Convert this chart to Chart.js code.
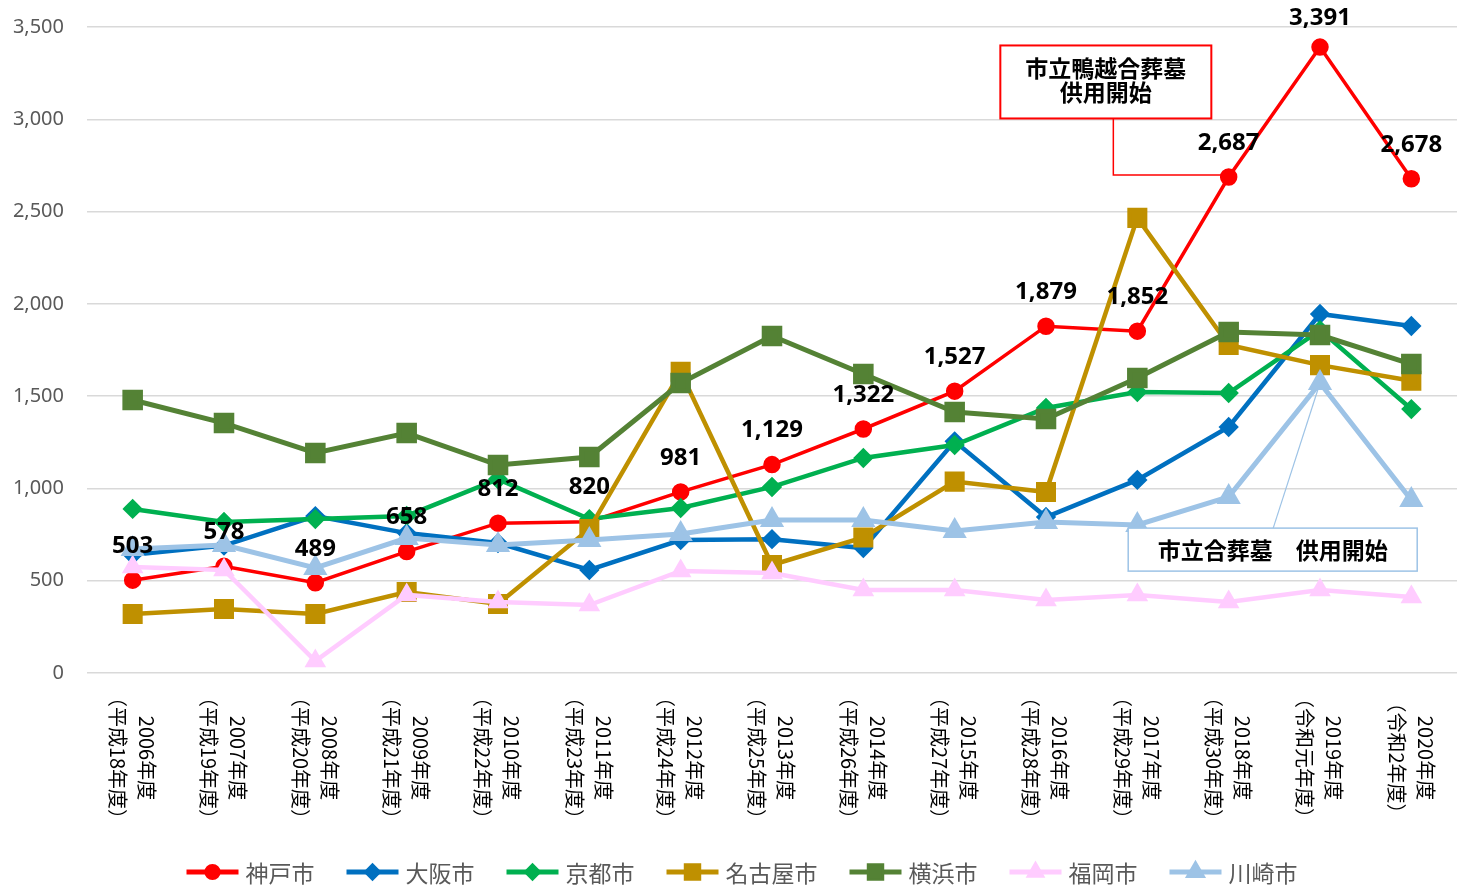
<!DOCTYPE html>
<html lang="ja">
<head>
    <meta charset="UTF-8">
    <title>合葬墓 利用件数</title>
    <style>
        html, body { margin: 0; padding: 0; background: #fff; }
        .chart-box { width: 1465px; height: 885px; position: relative; }
    </style>
    <script src="https://cdn.jsdelivr.net/npm/chart.js"></script>
</head>
<body>
    <div class="chart-box">
        <canvas id="mainChart"></canvas>
    </div>

    <script>
        // 年度ラベル
        const years = ['2006年度', '2007年度', '2008年度', '2009年度', '2010年度', '2011年度', '2012年度',
            '2013年度', '2014年度', '2015年度', '2016年度', '2017年度', '2018年度', '2019年度', '2020年度'];
        const eraYears = ['（平成18年度）', '（平成19年度）', '（平成20年度）', '（平成21年度）', '（平成22年度）',
            '（平成23年度）', '（平成24年度）', '（平成25年度）', '（平成26年度）', '（平成27年度）',
            '（平成28年度）', '（平成29年度）', '（平成30年度）', '（令和元年度）', '（令和2年度）'];

        // 各都市の値
        const kobe     = [503, 578, 489, 658, 812, 820, 981, 1129, 1322, 1527, 1879, 1852, 2687, 3391, 2678];
        const osaka    = [640, 690, 850, 758, 704, 558, 720, 725, 677, 1255, 845, 1046, 1333, 1945, 1880];
        const kyoto    = [889, 818, 834, 851, 1050, 834, 894, 1008, 1165, 1235, 1436, 1522, 1517, 1858, 1430];
        const nagoya   = [320, 347, 320, 439, 374, 780, 1632, 585, 734, 1037, 981, 2466, 1777, 1668, 1583];
        const yokohama = [1479, 1354, 1192, 1300, 1127, 1170, 1571, 1826, 1620, 1414, 1376, 1598, 1848, 1831, 1674];
        const fukuoka  = [574, 558, 65, 423, 385, 368, 553, 542, 450, 450, 396, 423, 385, 450, 412];
        const kawasaki = [672, 693, 569, 731, 693, 720, 753, 829, 829, 769, 818, 802, 954, 1571, 937];

        const yTicks = [0, 500, 1000, 1500, 2000, 2500, 3000, 3500];

        // 注釈テキスト
        const noteKamogoe = ['市立鴨越合葬墓', '供用開始'];
        const noteKawasaki = '市立合葬墓　供用開始';

        function makeSet(label, data, color, style, radius, width, order) {
            return {
                label: label,
                data: data,
                borderColor: color,
                backgroundColor: color,
                pointBackgroundColor: color,
                pointBorderColor: color,
                pointStyle: style,
                pointRadius: radius,
                pointHoverRadius: radius,
                borderWidth: width,
                tension: 0,
                order: order
            };
        }

        const datasets = [
            makeSet('神戸市', kobe, '#FF0000', 'circle', 7, 3.5, 6),
            makeSet('大阪市', osaka, '#0070C0', 'rectRot', 7, 4.5, 5),
            makeSet('京都市', kyoto, '#00B050', 'rectRot', 7, 4.5, 4),
            makeSet('名古屋市', nagoya, '#BF9000', 'rect', 11, 4.5, 3),
            makeSet('横浜市', yokohama, '#548235', 'rect', 11, 5, 2),
            makeSet('福岡市', fukuoka, '#FFCCFF', 'triangle', 8, 4.5, 1),
            makeSet('川崎市', kawasaki, '#9DC3E6', 'triangle', 9, 5, 0)
        ];

        // 軸ラベル、データラベル、注釈、凡例
        const extrasPlugin = {
            id: 'extras',
            afterDraw(chart) {
                const ctx = chart.ctx;
                const xs = chart.scales.x;
                const ys = chart.scales.y;

                // y軸ラベル
                ctx.save();
                ctx.fillStyle = '#595959';
                ctx.font = '20px "Noto Sans"';
                ctx.textAlign = 'right';
                ctx.textBaseline = 'middle';
                yTicks.forEach(v => {
                    ctx.fillText(v.toLocaleString('en-US'), 64, ys.getPixelForValue(v));
                });
                ctx.restore();

                // x軸ラベル（90度回転）
                ctx.save();
                ctx.fillStyle = '#000';
                ctx.font = '20px "Noto Sans CJK JP"';
                ctx.textAlign = 'center';
                ctx.textBaseline = 'middle';
                years.forEach((y, i) => {
                    const px = xs.getPixelForValue(i);
                    ctx.save();
                    ctx.translate(px, 758);
                    ctx.rotate(Math.PI / 2);
                    ctx.fillText(y, 0, -14);
                    ctx.fillText(eraYears[i], 0, 15);
                    ctx.restore();
                });
                ctx.restore();

                // 神戸市のデータラベル
                ctx.save();
                ctx.fillStyle = '#000';
                ctx.font = 'bold 24px "Noto Sans"';
                ctx.textAlign = 'center';
                ctx.textBaseline = 'middle';
                kobe.forEach((v, i) => {
                    const px = xs.getPixelForValue(i);
                    const py = ys.getPixelForValue(v);
                    ctx.fillText(v.toLocaleString('en-US'), px, Math.max(py - 34, 18));
                });
                ctx.restore();

                // 注釈: 市立鴨越合葬墓
                ctx.save();
                const rLeft = xs.getPixelForValue(9.5);
                const rTop = ys.getPixelForValue(3400);
                const rW = 211, rH = 73;
                const tx = xs.getPixelForValue(12);
                const ty = ys.getPixelForValue(kobe[12]);
                ctx.strokeStyle = '#FF0000';
                ctx.lineWidth = 1.5;
                ctx.beginPath();
                ctx.moveTo(rLeft + 113, rTop + rH);
                ctx.lineTo(rLeft + 113, ty - 2);
                ctx.lineTo(tx, ty - 2);
                ctx.stroke();
                ctx.fillStyle = '#fff';
                ctx.fillRect(rLeft, rTop, rW, rH);
                ctx.lineWidth = 2;
                ctx.strokeRect(rLeft, rTop, rW, rH);
                ctx.fillStyle = '#000';
                ctx.font = 'bold 23px "Noto Sans CJK JP"';
                ctx.textAlign = 'center';
                ctx.textBaseline = 'middle';
                ctx.fillText(noteKamogoe[0], rLeft + rW / 2, rTop + 23);
                ctx.fillText(noteKamogoe[1], rLeft + rW / 2, rTop + 47);
                ctx.restore();

                // 注釈: 川崎 市立合葬墓
                ctx.save();
                const bLeft = xs.getPixelForValue(10.9);
                const bTop = ys.getPixelForValue(785);
                const bW = 289, bH = 43;
                const kx = xs.getPixelForValue(13);
                const ky = ys.getPixelForValue(kawasaki[13]);
                ctx.strokeStyle = '#9DC3E6';
                ctx.lineWidth = 1.2;
                ctx.beginPath();
                ctx.moveTo(bLeft + 145, bTop);
                ctx.lineTo(kx, ky);
                ctx.stroke();
                ctx.fillStyle = '#fff';
                ctx.fillRect(bLeft, bTop, bW, bH);
                ctx.lineWidth = 1.5;
                ctx.strokeRect(bLeft, bTop, bW, bH);
                ctx.fillStyle = '#000';
                ctx.font = 'bold 23px "Noto Sans CJK JP"';
                ctx.textAlign = 'center';
                ctx.textBaseline = 'middle';
                ctx.fillText(noteKawasaki, bLeft + bW / 2, bTop + bH / 2 + 1);
                ctx.restore();

                // 凡例
                ctx.save();
                ctx.font = '23px "Noto Sans CJK JP"';
                const lineLen = 52, gap = 7, spacing = 32;
                const widths = chart.data.datasets.map(ds => lineLen + gap + ctx.measureText(ds.label).width);
                const total = widths.reduce((a, b) => a + b, 0) + spacing * (widths.length - 1);
                let lx = 742 - total / 2;
                const ly = 872;
                chart.data.datasets.forEach((ds, i) => {
                    ctx.strokeStyle = ds.borderColor;
                    ctx.lineWidth = 5;
                    ctx.beginPath();
                    ctx.moveTo(lx, ly);
                    ctx.lineTo(lx + lineLen, ly);
                    ctx.stroke();
                    Chart.helpers.drawPoint(ctx, {
                        pointStyle: ds.pointStyle,
                        radius: ds.pointRadius * 0.8,
                        borderWidth: 1,
                        rotation: 0
                    }, lx + lineLen / 2, ly);
                    ctx.fillStyle = ds.backgroundColor;
                    ctx.fill();
                    ctx.fillStyle = '#595959';
                    ctx.textAlign = 'left';
                    ctx.textBaseline = 'middle';
                    ctx.fillText(ds.label, lx + lineLen + gap, ly + 1);
                    lx += widths[i] + spacing;
                });
                ctx.restore();
            }
        };

        window.onload = function() {
            const ctx = document.getElementById('mainChart').getContext('2d');
            new Chart(ctx, {
                type: 'line',
                data: {
                    labels: years,
                    datasets: datasets
                },
                options: {
                    responsive: true,
                    maintainAspectRatio: false,
                    animation: false,
                    layout: {
                        autoPadding: false,
                        padding: { top: 27, right: 8, bottom: 0, left: 0 }
                    },
                    scales: {
                        x: {
                            offset: true,
                            grid: { display: false },
                            border: { display: false },
                            ticks: { display: false },
                            afterFit: function(scale) { scale.height = 212; }
                        },
                        y: {
                            min: 0,
                            max: 3500,
                            afterBuildTicks: function(scale) {
                                scale.ticks = yTicks.map(v => ({ value: v }));
                            },
                            grid: { color: '#D9D9D9', lineWidth: 1.5, drawTicks: false },
                            border: { display: false },
                            ticks: { display: false, padding: 0 },
                            afterFit: function(scale) { scale.width = 87; }
                        }
                    },
                    plugins: {
                        legend: { display: false },
                        tooltip: { enabled: false }
                    }
                },
                plugins: [extrasPlugin]
            });
        };
    </script>
</body>
</html>
